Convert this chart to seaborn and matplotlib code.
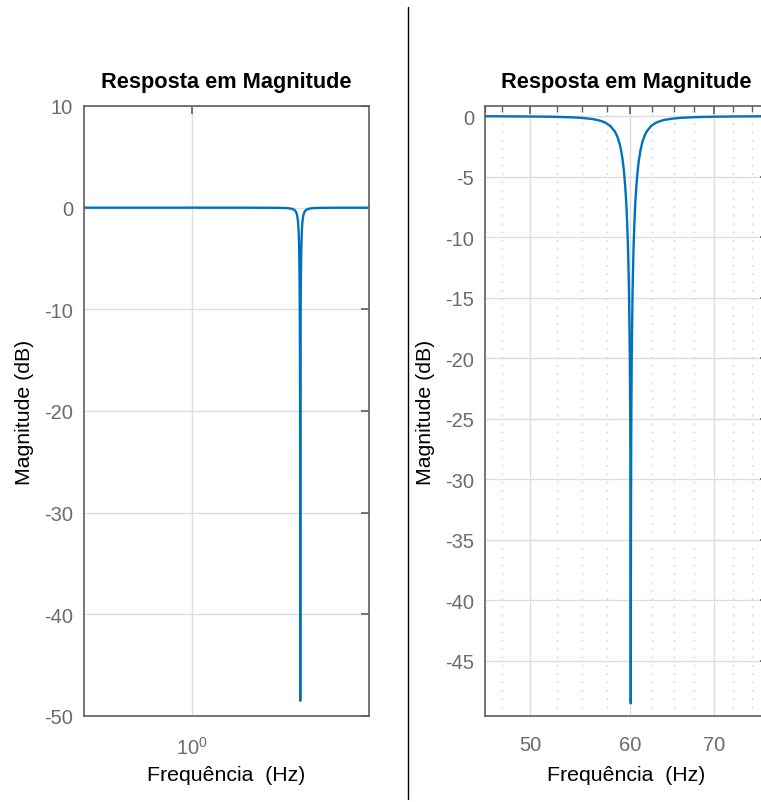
import numpy as np
import pandas as pd
import matplotlib
matplotlib.use("Agg")
import matplotlib.pyplot as plt
import seaborn as sns
from matplotlib.ticker import FixedLocator, NullLocator, LogFormatterMathtext, NullFormatter, FixedFormatter
from matplotlib.lines import Line2D

# Magnitude response of the 60 Hz notch filter (frequency in Hz, magnitude in dB)
freq_hz = [3, 14, 30, 46, 50, 52, 54, 55, 56, 56.5, 57, 57.4, 57.9, 58.4, 58.65,
           58.9, 59.05, 59.2, 59.35, 59.5, 59.6, 59.7, 59.8, 59.9, 60.0, 60.05,
           60.08, 60.09, 60.1, 60.11, 60.12, 60.15, 60.2, 60.3, 60.4, 60.5,
           60.6, 60.7, 60.85, 61.0, 61.2, 61.4, 61.65, 61.9, 62.4, 62.9, 63.4,
           63.9, 64.9, 65.9, 67.9, 69.9, 73, 77.5, 95, 150]
mag_db = [0.0, 0.0, -0.002, -0.017, -0.037, -0.059, -0.108, -0.157, -0.246, -0.32,
          -0.428, -0.559, -0.824, -1.313, -1.724, -2.34, -2.87, -3.57, -4.54,
          -5.90, -7.13, -8.76, -11.01, -14.34, -20.25, -26.25, -34.2, -40.2,
          -48.5, -40.2, -34.2, -26.25, -20.26, -14.36, -11.05, -8.81, -7.19,
          -5.96, -4.61, -3.65, -2.75, -2.13, -1.61, -1.25, -0.81, -0.57, -0.42,
          -0.32, -0.21, -0.146, -0.084, -0.055, -0.033, -0.019, -0.006, -0.002]

freq_scale = 15.5  # Hz per unit on the wide-band view
left_yticks = [10, 0, -10, -20, -30, -40, -50]
right_yticks = [0, -5, -10, -15, -20, -25, -30, -35, -40, -45]
right_xticks = [50, 60, 70]
right_xminor = [46, 47.5, 52.5, 55, 57.5, 62.5, 65, 67.5, 72.5, 75]

df = pd.DataFrame({"f": freq_hz, "db": mag_db})
df["w"] = df["f"] / freq_scale

sns.set_theme(style="white")
plt.rcParams["font.family"] = ["Liberation Sans", "DejaVu Sans"]
plt.rcParams["axes.unicode_minus"] = False

line_c = "#0072BD"
spine_c = "#5e5e5e"
tick_c = "#6b6b6b"
grid_c = "#dedede"

fig = plt.figure(figsize=(7.61, 8.03), dpi=100)
W, H = 761, 803
ax1 = fig.add_axes([84 / W, (H - 717) / H, 285 / W, 610 / H])
ax2 = fig.add_axes([485 / W, (H - 717) / H, 283 / W, 610 / H])

sns.lineplot(data=df, x="w", y="db", ax=ax1, color=line_c, lw=1.7,
             estimator=None, sort=False)
sns.lineplot(data=df, x="f", y="db", ax=ax2, color=line_c, lw=1.7,
             estimator=None, sort=False)

for ax in (ax1, ax2):
    ax.set_xscale("log")
    for s in ax.spines.values():
        s.set_color(spine_c)
        s.set_linewidth(1.2)
    ax.tick_params(which="both", direction="in", top=True, right=True,
                   colors=spine_c, labelcolor=tick_c, labelsize=14.5)
    ax.tick_params(which="major", length=6, width=1.2)
    ax.tick_params(axis="y", pad=8)
    ax.tick_params(axis="x", pad=14)
    ax.grid(True, which="major", color=grid_c, lw=1.0)
    ax.set_axisbelow(True)
    ax.set_title("Resposta em Magnitude", fontsize=15.7, fontweight="bold",
                 color="black", pad=14)
    ax.set_xlabel("Frequência  (Hz)", fontsize=15.3, color="black")
    ax.xaxis.set_label_coords(0.5, -0.080)
    ax.set_ylabel("Magnitude (dB)", fontsize=15.3, color="black", labelpad=7)

# left: wide-band view
ax1.set_xlim(0.258, 9.18)
ax1.set_ylim(-50, 10)
ax1.xaxis.set_major_locator(FixedLocator([1.0]))
ax1.xaxis.set_major_formatter(LogFormatterMathtext())
ax1.xaxis.set_minor_locator(NullLocator())
ax1.yaxis.set_major_locator(FixedLocator(left_yticks))

# right: zoom around the notch
ax2.set_xlim(46, 77.3)
ax2.set_ylim(-49.55, 0.83)
ax2.xaxis.set_major_locator(FixedLocator(right_xticks))
ax2.xaxis.set_major_formatter(FixedFormatter([str(v) for v in right_xticks]))
ax2.xaxis.set_minor_locator(FixedLocator(right_xminor))
ax2.xaxis.set_minor_formatter(NullFormatter())
ax2.tick_params(which="minor", length=4, width=1.0)
ax2.grid(True, which="minor", axis="x", color="#c8c8c8", lw=1.0,
         linestyle=(0, (1, 5)))
ax2.yaxis.set_major_locator(FixedLocator(right_yticks))

# separator between the two panels
fig.add_artist(Line2D([408 / W, 408 / W], [1 - 8 / H, 1 - 800 / H],
                      transform=fig.transFigure, color="black", lw=1.0))

fig.savefig("out.png", dpi=100)
